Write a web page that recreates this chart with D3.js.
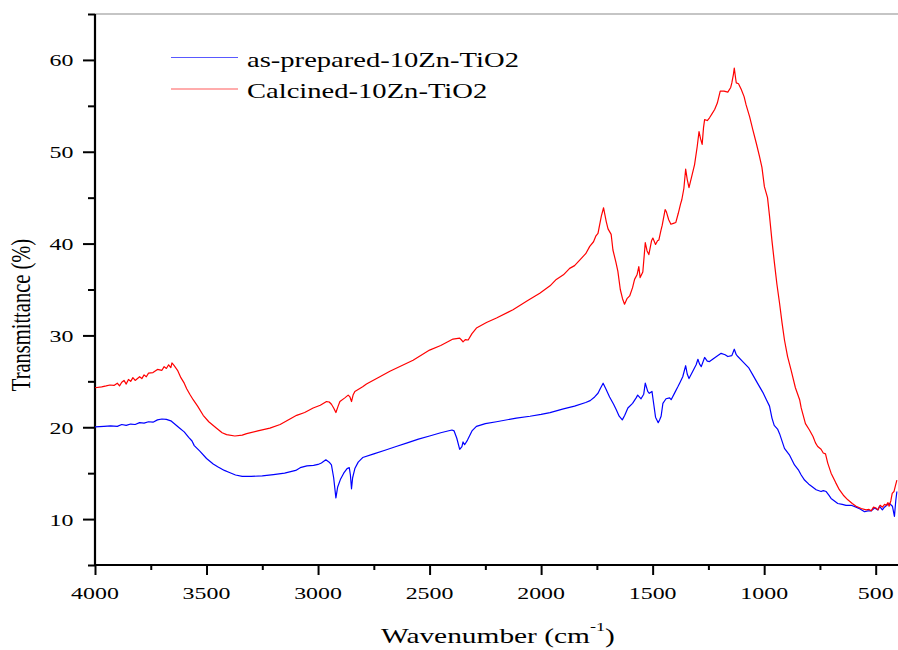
<!DOCTYPE html>
<html>
<head>
<meta charset="utf-8">
<script src="https://cdn.jsdelivr.net/npm/d3@7"></script>
<style>
  html, body { margin: 0; padding: 0; background: #fff; }
  svg { display: block; }
  text { font-family: "Liberation Serif", "Times New Roman", serif; fill: #000; }
</style>
</head>
<body>
<svg id="chart" width="898" height="650"></svg>
<script>
// FTIR spectra: wavenumber (cm-1) and transmittance (%)
const seriesNames = ["as-prepared-10Zn-TiO2", "Calcined-10Zn-TiO2"];
const seriesColors = ["#0000ff", "#ff0000"];

const xTicks = [4000, 3500, 3000, 2500, 2000, 1500, 1000, 500];
const yTicks = [10, 20, 30, 40, 50, 60];

const wnAsPrepared = [4000,3960,3930,3900,3880,3860,3840,3820,3800,3780,3760,3740,3720,3700,3680,3660,3640,3620,3600,3580,3565,3555,3530,3500,3470,3450,3420,3400,3370,3340,3300,3250,3200,3150,3100,3080,3050,3020,3000,2985,2965,2950,2940,2930,2920,2912,2900,2885,2870,2860,2855,2850,2845,2835,2820,2800,2750,2700,2650,2600,2550,2500,2450,2400,2390,2378,2365,2355,2350,2343,2330,2310,2290,2250,2200,2111,2050,2000,1960,1900,1850,1800,1780,1760,1745,1735,1722,1710,1693,1675,1663,1650,1636,1625,1611,1590,1574,1567,1552,1540,1533,1522,1515,1503,1495,1487,1475,1469,1462,1454,1440,1424,1417,1400,1387,1379,1365,1352,1345,1337,1320,1305,1297,1290,1282,1267,1255,1245,1220,1193,1175,1163,1145,1134,1125,1118,1096,1070,1051,1030,1006,990,976,965,955,940,931,909,887,864,845,834,819,800,789,767,745,735,722,710,700,670,650,633,610,588,570,550,535,520,505,490,483,470,461,450,438,425,416,410,405];
const tAsPrepared = [20.05,20.1,20.15,20.1,20.3,20.2,20.35,20.3,20.5,20.45,20.6,20.55,20.8,20.9,20.85,20.7,20.3,19.9,19.5,18.9,18.5,18.0,17.4,16.6,16.0,15.7,15.3,15.1,14.8,14.65,14.65,14.7,14.85,15.0,15.3,15.6,15.8,15.85,15.95,16.1,16.45,16.2,15.9,14.5,12.3,13.5,14.3,15.0,15.5,15.6,14.8,13.3,14.5,15.5,16.2,16.7,17.1,17.5,17.9,18.3,18.7,19.05,19.4,19.7,19.6,18.8,17.6,17.9,18.4,18.1,18.6,19.6,20.1,20.4,20.6,21.0,21.2,21.4,21.6,22.0,22.3,22.7,22.9,23.3,23.7,24.2,24.8,24.2,23.3,22.5,21.9,21.2,20.8,21.3,22.1,22.6,23.2,23.5,23.1,23.6,24.8,23.9,23.7,23.9,22.5,21.1,20.5,20.8,21.2,22.6,23.1,23.2,23.0,23.8,24.4,24.8,25.5,26.7,25.8,25.3,26.1,26.8,27.4,26.9,26.6,27.6,27.2,27.15,27.6,28.05,27.9,27.7,27.8,28.5,27.9,27.7,27.15,26.5,25.7,24.8,23.8,23.0,22.3,21.0,20.2,19.8,19.3,17.7,17.0,15.9,15.3,14.8,14.25,13.8,13.6,13.2,13.0,13.1,13.0,12.6,12.25,11.7,11.6,11.5,11.5,11.3,11.1,10.8,10.9,10.9,11.2,11.0,11.4,11.0,11.3,11.5,11.7,11.4,10.3,12.0,13.0];

const wnCalcined = [4000,3970,3950,3933,3915,3900,3890,3880,3870,3860,3850,3840,3830,3820,3800,3790,3780,3770,3760,3740,3720,3700,3690,3680,3670,3660,3655,3645,3630,3615,3600,3589,3575,3560,3540,3515,3490,3455,3430,3410,3373,3340,3320,3270,3216,3170,3126,3096,3060,3022,2990,2962,2950,2940,2930,2920,2910,2902,2880,2865,2857,2850,2843,2835,2800,2783,2723,2678,2574,2500,2450,2395,2365,2357,2350,2340,2327,2310,2290,2245,2200,2126,2060,2006,1960,1932,1900,1872,1850,1827,1800,1782,1765,1755,1745,1730,1720,1708,1700,1686,1678,1665,1656,1645,1635,1626,1615,1603,1590,1581,1570,1562,1556,1544,1533,1525,1517,1505,1499,1487,1478,1472,1463,1457,1444,1439,1428,1418,1407,1396,1385,1375,1369,1360,1352,1345,1337,1325,1312,1300,1292,1285,1278,1272,1267,1255,1245,1232,1222,1210,1197,1180,1163,1150,1145,1138,1134,1128,1125,1115,1103,1090,1081,1065,1051,1035,1021,1010,999,985,976,965,954,943,931,920,909,895,879,860,841,834,815,797,781,770,760,745,735,725,715,700,680,663,645,625,605,588,565,543,530,520,510,498,490,480,470,460,453,445,440,432,426,418,412,405];
const tCalcined = [24.3,24.4,24.5,24.6,24.55,24.8,24.5,24.9,25.1,24.7,25.2,25.0,25.4,25.1,25.5,25.3,25.7,25.5,25.9,25.95,26.3,26.2,26.6,26.4,26.8,26.5,27.0,26.7,26.2,25.4,24.8,24.2,23.6,23.0,22.3,21.3,20.6,19.9,19.4,19.2,19.05,19.15,19.3,19.6,19.9,20.3,20.9,21.3,21.6,22.1,22.4,22.8,22.75,22.5,22.1,21.6,22.3,22.8,23.2,23.5,23.3,22.8,23.5,23.9,24.4,24.7,25.5,26.1,27.3,28.4,28.9,29.6,29.7,29.5,29.3,29.55,29.5,30.2,30.8,31.4,31.9,32.8,33.8,34.6,35.4,36.1,36.6,37.3,37.6,38.2,38.9,39.7,40.2,40.8,41.1,43.0,43.9,42.4,41.6,41.0,39.3,38.0,37.0,35.0,34.0,33.4,34.0,34.3,35.2,36.1,36.6,37.5,36.3,36.9,40.1,39.2,38.8,40.3,40.6,39.9,40.3,40.4,41.4,42.0,43.7,43.5,42.6,42.1,42.2,42.3,43.3,44.3,44.8,46.0,48.1,47.0,46.1,47.3,48.6,50.6,52.2,51.4,50.8,52.6,53.5,53.4,53.7,54.2,54.6,55.3,56.6,56.6,56.5,57.0,57.5,58.4,59.1,58.0,57.5,57.4,56.8,56.0,55.1,53.8,52.4,50.9,49.5,48.3,46.2,45.0,43.0,40.3,37.9,35.6,33.5,31.4,29.5,27.7,26.2,24.3,23.0,22.1,20.4,19.7,19.0,18.3,17.9,17.6,17.2,17.1,16.1,15.0,14.0,13.2,12.6,12.1,11.7,11.4,11.15,11.0,11.05,10.9,11.3,11.2,11.0,11.5,11.3,11.6,11.5,11.8,11.4,12.0,12.8,13.0,13.6,14.25];

const svg = d3.select("#chart");

// plot frame
const plotLeft = 95, plotRight = 898, plotTop = 14, plotBottom = 565;

const x = d3.scaleLinear().domain([4000, 400]).range([plotLeft, plotRight]);
const y = d3.scaleLinear().domain([5, 65]).range([plotBottom, plotTop]);

// clip region for the spectra
svg.append("clipPath").attr("id", "plotClip")
  .append("rect").attr("x", plotLeft).attr("y", plotTop)
  .attr("width", plotRight - plotLeft).attr("height", plotBottom - plotTop);

// top border line
svg.append("line")
  .attr("x1", plotLeft).attr("x2", plotRight).attr("y1", plotTop).attr("y2", plotTop)
  .attr("stroke", "#8c8c8c").attr("stroke-width", 1.2);

// bottom axis with major and minor ticks
const xMinor = d3.range(3750, 400, -500);
const xAxisG = svg.append("g").attr("transform", `translate(0,${plotBottom})`);
xAxisG.append("g").call(d3.axisBottom(x).tickValues(xMinor).tickSize(5).tickFormat(""))
  .call(g => g.select(".domain").remove());
xAxisG.append("g").call(d3.axisBottom(x).tickValues(xTicks).tickSize(10).tickFormat(""))
  .call(g => g.select(".domain").remove());
xAxisG.selectAll(".tick line").attr("stroke", "#000").attr("stroke-width", 2);
svg.append("line")
  .attr("x1", plotLeft - 1).attr("x2", plotRight).attr("y1", plotBottom).attr("y2", plotBottom)
  .attr("stroke", "#000").attr("stroke-width", 2.2);

// x tick labels, wide serif digits
svg.append("g").selectAll("g").data(xTicks).join("g")
  .attr("transform", d => `translate(${x(d)},599) scale(1.45,1)`)
  .append("text")
  .attr("text-anchor", "middle")
  .attr("font-size", 16.5)
  .text(d => d);

// left axis with major and minor ticks
const yMinor = d3.range(5, 66, 10);
const yAxisG = svg.append("g").attr("transform", `translate(${plotLeft},0)`);
yAxisG.append("g").call(d3.axisLeft(y).tickValues(yMinor).tickSize(7).tickFormat(""))
  .call(g => g.select(".domain").remove());
yAxisG.append("g").call(d3.axisLeft(y).tickValues(yTicks).tickSize(12).tickFormat(""))
  .call(g => g.select(".domain").remove());
yAxisG.selectAll(".tick line").attr("stroke", "#000").attr("stroke-width", 2);
svg.append("line")
  .attr("x1", plotLeft).attr("x2", plotLeft).attr("y1", plotTop).attr("y2", plotBottom + 1)
  .attr("stroke", "#000").attr("stroke-width", 2.2);

// y tick labels
svg.append("g").selectAll("g").data(yTicks).join("g")
  .attr("transform", d => `translate(73.5,${y(d) + 6.5}) scale(1.45,1)`)
  .append("text")
  .attr("text-anchor", "end")
  .attr("font-size", 16.5)
  .text(d => d);

// axis titles
const xTitle = svg.append("g").attr("transform", "translate(381,643) scale(1.4,1)")
  .append("text").attr("font-size", 21);
xTitle.append("tspan").text("Wavenumber (cm");
xTitle.append("tspan").attr("font-size", 13).attr("dy", -12).text("-1");
xTitle.append("tspan").attr("dy", 12).text(")");

svg.append("g").attr("transform", "translate(30,315) scale(1.3,1) rotate(-90)")
  .append("text")
  .attr("text-anchor", "middle")
  .attr("font-size", 20.5)
  .text("Transmittance (%)");

// spectra
const line = d3.line().x(d => x(d[0])).y(d => y(d[1]));
const spectra = [
  d3.zip(wnAsPrepared, tAsPrepared),
  d3.zip(wnCalcined, tCalcined)
];
svg.append("g").attr("clip-path", "url(#plotClip)")
  .selectAll("path").data(spectra).join("path")
  .attr("d", line)
  .attr("fill", "none")
  .attr("stroke", (d, i) => seriesColors[i])
  .attr("stroke-width", 1.2)
  .attr("stroke-linejoin", "round");

// legend
const legend = svg.append("g");
const legendRows = [57.5, 89];
seriesNames.forEach((name, i) => {
  legend.append("line")
    .attr("x1", 171).attr("x2", 238)
    .attr("y1", legendRows[i]).attr("y2", legendRows[i])
    .attr("stroke", seriesColors[i]).attr("stroke-width", 1.2).attr("stroke-opacity", 0.65);
  legend.append("g")
    .attr("transform", `translate(247,${legendRows[i] + 9.3}) scale(1.33,1)`)
    .append("text").attr("font-size", 21.5).text(name);
});
</script>
</body>
</html>
